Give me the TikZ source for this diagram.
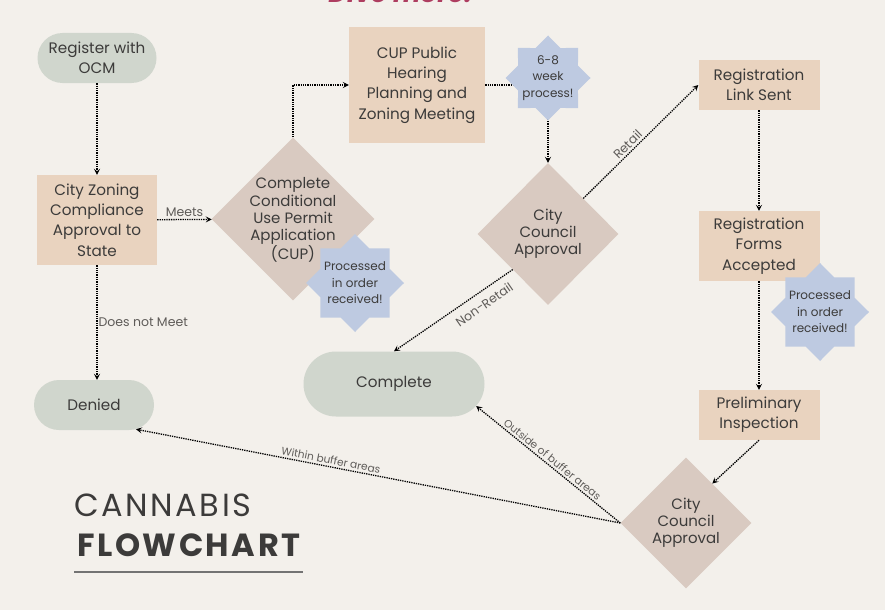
\documentclass[tikz,border=0pt]{standalone}
\usepackage{fontspec}
\setmainfont{Poppins}
\newfontfamily\titlelight[LetterSpace=8]{Poppins}
\newfontfamily\titlebold[LetterSpace=8]{Poppins}
\usetikzlibrary{shapes.geometric,shapes.misc,arrows.meta,calc}
\definecolor{bg}{HTML}{F3F0EB}
\definecolor{peach}{HTML}{E9D3BF}
\definecolor{sage}{HTML}{D0D6CD}
\definecolor{taupe}{HTML}{D9CAC1}
\definecolor{starblue}{HTML}{BECAE1}
\definecolor{ink}{HTML}{3C3B3A}
\definecolor{lbl}{HTML}{5E5B58}
\definecolor{pinkred}{HTML}{AE3D60}
\tikzset{
  boxnode/.style={rectangle, fill=peach, inner sep=0pt, align=center, text=ink, font=\fontsize{15.2}{20.3}\selectfont},
  pill/.style={rounded rectangle, fill=sage, inner sep=0pt},
  dia/.style={diamond, fill=taupe, inner sep=0pt},
  burst/.style={star, star points=8, star point ratio=1.31, fill=starblue, inner sep=0pt},
  txt/.style={align=center, text=ink, inner sep=0pt, font=\fontsize{15.2}{20}\selectfont},
  diatxt/.style={align=center, text=ink, inner sep=0pt, font=\fontsize{15}{17.2}\selectfont},
  burstxt/.style={align=center, text=ink, inner sep=0pt, font=\fontsize{12}{16.5}\selectfont},
  flow/.style={densely dotted, line width=1.3pt, black, -{Stealth[length=6pt,width=6pt,inset=2.5pt]}},
  elbl/.style={text=lbl, font=\fontsize{10.6}{12}\selectfont, inner sep=2pt},
  elblbig/.style={text=lbl, font=\fontsize{12.5}{14}\selectfont, inner sep=2pt}
}
\begin{document}
\begin{tikzpicture}[x=1pt,y=-1pt]
\useasboundingbox (0,0) rectangle (885,610);
\fill[bg] (0,0) rectangle (885,610);
\begin{scope}
\clip (0,0) rectangle (885,610);
\node[anchor=base, text=pinkred, font=\fontsize{26}{26}\selectfont\bfseries\itshape] (topnote) at (400,3) {Dive more.};
\end{scope}

% pills
\node[pill, minimum width=119pt, minimum height=50pt] (reg) at (97,58) {};
\node[txt] (regt) at (reg.center) {Register with\\OCM};
\node[pill, minimum width=120pt, minimum height=50pt] (denied) at (94,405) {};
\node[txt] (deniedt) at (denied.center) {Denied};
\node[pill, minimum width=181pt, minimum height=65pt] (complete) at (394,384) {};
\node[txt] (completet) at (complete.center) {Complete};

% boxes
\node[boxnode, minimum width=120pt, minimum height=90pt] (zoning) at (97,220) {City Zoning\\Compliance\\Approval to\\State};
\node[boxnode, minimum width=136pt, minimum height=116pt] (cup) at (417,85) {CUP Public\\Hearing\\Planning and\\Zoning Meeting};
\node[boxnode, minimum width=121pt, minimum height=50pt] (link) at (759,85) {Registration\\Link Sent};
\node[boxnode, minimum width=121pt, minimum height=70pt] (forms) at (759,246) {Registration\\Forms\\Accepted};
\node[boxnode, minimum width=121pt, minimum height=50pt] (prelim) at (759,415) {Preliminary\\Inspection};

% diamonds
\node[dia, minimum width=163pt, minimum height=163pt] (d0) at (293,219) {};
\node[diatxt] (d0t) at (293,220) {Complete\\Conditional\\Use Permit\\Application\\(CUP)};
\node[dia, minimum width=141pt, minimum height=142pt] (d1) at (548,234) {};
\node[diatxt] (d1t) at (d1.center) {City\\Council\\Approval};
\node[dia, minimum width=131pt, minimum height=131pt] (d2) at (686,523) {};
\node[diatxt] (d2t) at (d2.center) {City\\Council\\Approval};

% connectors
\draw[flow] (reg) -- (zoning);
\draw[flow] (zoning) -- node[elblbig, above, pos=0.5] (meets) {Meets} (d0);
\draw[flow] (d0.north) |- (cup.west);
\draw[flow] (cup.east) -| (d1.north);
\draw[flow] (d1.north east) -- node[elblbig, above, sloped, pos=0.43] (retail) {Retail} (link.west);
\draw[flow] (d1.south west) -- node[elblbig, below=5pt, sloped, pos=0.3] (nonretail) {Non-Retail} (complete.north);
\draw[flow] (link) -- (forms);
\draw[flow] (forms) -- (prelim);
\draw[flow] (prelim.south) -- ($(d2.north)!0.4!(d2.east)$);
\draw[flow] (zoning.south) -- node[elblbig, right, pos=0.5, inner sep=1pt] (dnm) {Does not Meet} (zoning.south |- denied.north);
\draw[flow] (d2.west) -- node[elbl, above, sloped, pos=0.6] (within) {Within buffer areas} (denied.-30);
\draw[flow] (d2.west) -- node[elbl, above, sloped, pos=0.5] (outside) {Outside of buffer areas} (complete.-15);

% bursts
\node[burst, minimum size=85pt] (s1) at (548,78) {};
\node[burstxt] (s1t) at (s1.center) {6-8\\week\\process!};
\node[burst, minimum size=98pt] (s2) at (355,283) {};
\node[burstxt] (s2t) at (s2.center) {Processed\\in order\\received!};
\node[burst, minimum size=98pt] (s3) at (820,312) {};
\node[burstxt] (s3t) at (s3.center) {Processed\\in order\\received!};

% title
\node[anchor=base west, text=ink, inner sep=0pt, font=\fontsize{32}{32}\selectfont\titlelight] (t1) at (74,516) {CANNABIS};
\node[anchor=base west, text=ink, inner sep=0pt, font=\fontsize{32}{32}\selectfont\titlebold\bfseries] (t2) at (77,556) {FLOWCHART};
\draw[line width=1.5pt, draw=black!55] (74,572) -- (303,572);
\end{tikzpicture}
\end{document}
